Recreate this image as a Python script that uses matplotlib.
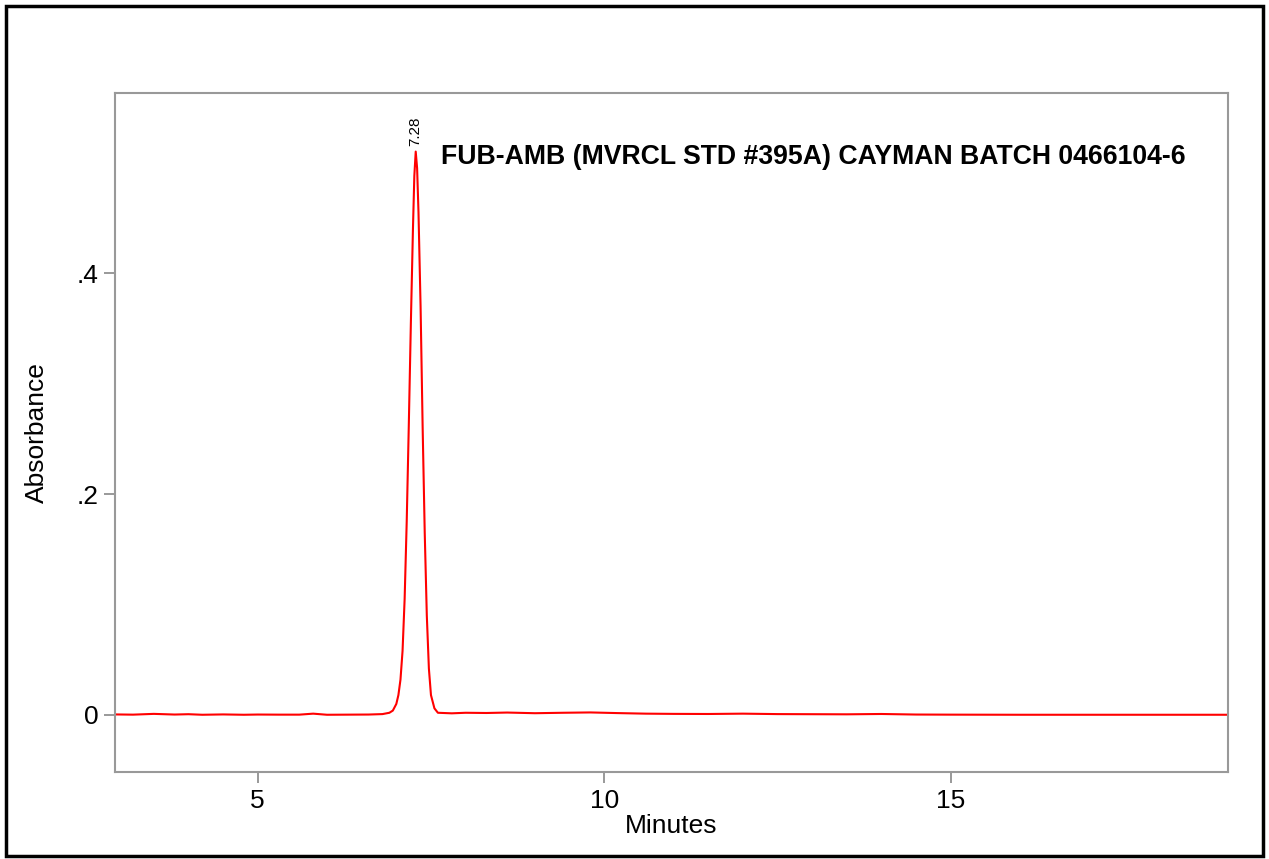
import matplotlib.pyplot as plt
from matplotlib.patches import Rectangle

# retention time (min) and absorbance
times = [2.94, 3.2, 3.5, 3.8, 4.0, 4.2, 4.5, 4.8, 5.0, 5.3, 5.6, 5.8, 6.0,
         6.3, 6.6, 6.8, 6.9, 6.95, 7.0, 7.03, 7.06, 7.09, 7.12, 7.15, 7.18,
         7.21, 7.24, 7.26, 7.28, 7.30, 7.32, 7.35, 7.38, 7.41, 7.44, 7.47,
         7.50, 7.55, 7.6, 7.8, 8.0, 8.3, 8.6, 9.0, 9.4, 9.8, 10.2, 10.6,
         11.0, 11.5, 12.0, 12.5, 13.0, 13.5, 14.0, 14.5, 15.0, 16.0, 17.0,
         18.0, 19.0]
absorbance = [0.0005, 0.0003, 0.001, 0.0004, 0.0007, 0.0002, 0.0005, 0.0002,
              0.0004, 0.0003, 0.0003, 0.0012, 0.0002, 0.0003, 0.0004, 0.0008,
              0.002, 0.004, 0.010, 0.018, 0.032, 0.058, 0.105, 0.175, 0.262,
              0.355, 0.44, 0.488, 0.510, 0.495, 0.455, 0.37, 0.26, 0.165,
              0.09, 0.042, 0.018, 0.006, 0.002, 0.0015, 0.002, 0.0018, 0.0022,
              0.0016, 0.002, 0.0023, 0.0017, 0.0012, 0.001, 0.0009, 0.0012,
              0.0008, 0.0007, 0.0006, 0.0009, 0.0004, 0.0003, 0.0002, 0.0002,
              0.0002, 0.0002]

peak_time = 7.28
peak_height = 0.510
peak_label = "7.28"
title = "FUB-AMB (MVRCL STD #395A) CAYMAN BATCH 0466104-6"

plt.rcParams['font.family'] = ['Liberation Sans', 'DejaVu Sans']

fig = plt.figure(figsize=(12.69, 8.59), dpi=100)
ax = fig.add_axes([0.0906, 0.1013, 0.877, 0.7904])

ax.plot(times, absorbance, color='#ff0000', linewidth=1.5)

ax.set_xlim(2.94, 19.0)
ax.set_ylim(-0.0516, 0.563)
ax.set_xticks([5, 10, 15])
ax.set_xticklabels(['5', '10', '15'])
ax.set_yticks([0, 0.2, 0.4])
ax.set_yticklabels(['0', '.2', '.4'])
ax.tick_params(direction='out', length=8, width=1.2, color='#888888',
               labelsize=19, pad=4)
for s in ax.spines.values():
    s.set_color('#999999')
    s.set_linewidth(1.5)

ax.set_xlabel('Minutes', fontsize=19, labelpad=1)
ax.set_ylabel('Absorbance', fontsize=19, labelpad=20)

ax.text(peak_time, peak_height + 0.005, peak_label, rotation=90,
        ha='center', va='bottom', fontsize=11)
ax.text(0.293, 0.906, title, transform=ax.transAxes, fontsize=19.2,
        fontweight='bold', ha='left', va='center')

fig.patches.append(Rectangle((0.005, 0.003), 0.99, 0.99, transform=fig.transFigure,
                             fill=False, edgecolor='black', linewidth=2.5))

fig.savefig('out.png', dpi=100)
